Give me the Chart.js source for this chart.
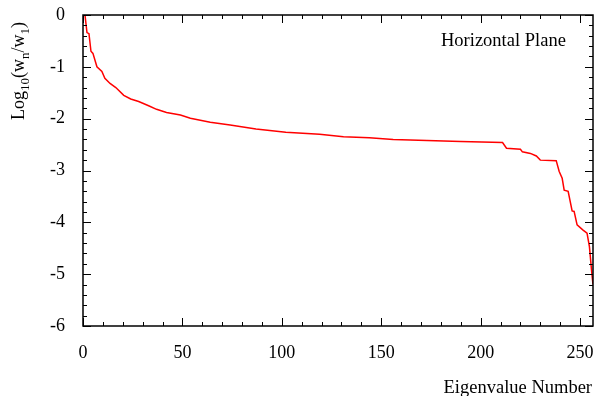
<!DOCTYPE html>
<html>
<head>
<meta charset="utf-8">
<script src="https://cdn.jsdelivr.net/npm/chart.js@4.4.0/dist/chart.umd.min.js"></script>
<style>
    html, body { margin: 0; padding: 0; background: #fff; }
    #wrap { width: 594px; height: 396px; }
</style>
</head>
<body>
<div id="wrap"><canvas id="eigenChart" width="594" height="396"></canvas></div>
<script>
// eigenvalue index and log10(wn/w1)
const eigenNumber = [1, 2, 3, 4, 5, 7, 9.5, 11, 13.6, 16.5,
    20.5, 24, 28, 33, 37, 42, 49, 54, 64, 74,
    87, 102, 119, 131, 144, 156, 173, 190, 211, 213,
    220, 221, 225, 228, 230, 238, 239.5, 241, 242, 244,
    246, 247, 248.5, 251.5, 253.5, 254.7, 255.9, 256.5];
const logRatio = [0, -0.34, -0.36, -0.70, -0.74, -1.0, -1.09, -1.22, -1.32, -1.40,
    -1.55, -1.62, -1.67, -1.75, -1.82, -1.88, -1.93, -1.99, -2.07, -2.12,
    -2.20, -2.26, -2.30, -2.35, -2.37, -2.40, -2.42, -2.44, -2.46, -2.57,
    -2.59, -2.64, -2.67, -2.72, -2.80, -2.81, -3.02, -3.15, -3.38, -3.40,
    -3.78, -3.79, -4.05, -4.15, -4.21, -4.47, -4.98, -5.2];
const xTickLabels = [0, 50, 100, 150, 200, 250];
const yTickLabels = [0, -1, -2, -3, -4, -5, -6];

const SERIF = '"Liberation Serif", "Times New Roman", serif';

// frame, inward ticks on all four sides, titles
const framePlugin = {
    id: "frame",
    afterDraw(chart) {
        const ctx = chart.ctx;
        const a = chart.chartArea;
        const xs = chart.scales.x;
        const ys = chart.scales.y;
        ctx.save();
        ctx.strokeStyle = "#000";
        ctx.lineWidth = 1.5;
        ctx.strokeRect(a.left, a.top, a.right - a.left, a.bottom - a.top);

        ctx.lineWidth = 1;
        ctx.beginPath();
        for (let v = 0; v <= 250; v += 10) {
            const px = Math.round(xs.getPixelForValue(v)) + 0.5;
            const len = v % 50 === 0 ? 8 : 4;
            ctx.moveTo(px, a.bottom); ctx.lineTo(px, a.bottom - len);
            ctx.moveTo(px, a.top); ctx.lineTo(px, a.top + len);
        }
        for (let i = 0; i <= 30; i++) {
            const v = -i / 5;
            const py = Math.round(ys.getPixelForValue(v)) + 0.5;
            const len = i % 5 === 0 ? 8 : 4;
            ctx.moveTo(a.left, py); ctx.lineTo(a.left + len, py);
            ctx.moveTo(a.right, py); ctx.lineTo(a.right - len, py);
        }
        ctx.stroke();

        ctx.fillStyle = "#000";
        ctx.textBaseline = "alphabetic";

        // y title with subscripts: Log10(wn/w1)
        const parts = [
            ["Log", 18, 0], ["10", 13, 5], ["(w", 18, 0], ["n", 13, 5],
            ["/w", 18, 0], ["1", 13, 5], [")", 18, 0]
        ];
        let total = 0;
        parts.forEach(p => { ctx.font = p[1] + "px " + SERIF; total += ctx.measureText(p[0]).width; });
        ctx.translate(24, 71);
        ctx.rotate(-Math.PI / 2);
        let cx = -total / 2;
        parts.forEach(p => {
            ctx.font = p[1] + "px " + SERIF;
            ctx.fillText(p[0], cx, p[2]);
            cx += ctx.measureText(p[0]).width;
        });
        ctx.setTransform(1, 0, 0, 1, 0, 0);

        ctx.font = "18.5px " + SERIF;
        ctx.textAlign = "left";
        ctx.fillText("Horizontal Plane", 441, 46);
        ctx.textAlign = "right";
        ctx.fillText("Eigenvalue Number", 592, 393);
        ctx.restore();
    }
};

const ctx = document.getElementById("eigenChart").getContext("2d");
new Chart(ctx, {
    type: "line",
    data: {
        datasets: [{
            label: "Horizontal Plane",
            data: eigenNumber.map((x, i) => ({ x: x, y: logRatio[i] })),
            borderColor: "#ff0000",
            borderWidth: 1.5,
            pointRadius: 0,
            tension: 0,
            fill: false
        }]
    },
    options: {
        responsive: false,
        animation: false,
        layout: { padding: { top: 15, right: 1, left: 0, bottom: 0 } },
        plugins: { legend: { display: false }, tooltip: { enabled: false } },
        scales: {
            x: {
                type: "linear",
                min: 0,
                max: 256.5,
                grid: { display: false },
                border: { display: false },
                ticks: {
                    stepSize: 50,
                    color: "#000",
                    padding: 8,
                    maxRotation: 0,
                    font: { family: SERIF, size: 18 },
                    callback: v => String(v)
                },
                afterBuildTicks: s => {
                    s.ticks = xTickLabels.map(v => ({ value: v }));
                },
                afterFit: s => {
                    s.height = 70;
                    s.paddingLeft = 0;
                    s.paddingRight = 0;
                }
            },
            y: {
                type: "linear",
                min: -6,
                max: 0,
                grid: { display: false },
                border: { display: false },
                ticks: {
                    stepSize: 1,
                    color: "#000",
                    padding: 10,
                    font: { family: SERIF, size: 18 },
                    callback: v => String(v)
                },
                afterBuildTicks: s => {
                    s.ticks = yTickLabels.map(v => ({ value: v }));
                },
                afterFit: s => {
                    s.width = 83;
                    s.paddingTop = 0;
                    s.paddingBottom = 0;
                }
            }
        }
    },
    plugins: [framePlugin]
});
</script>
</body>
</html>
